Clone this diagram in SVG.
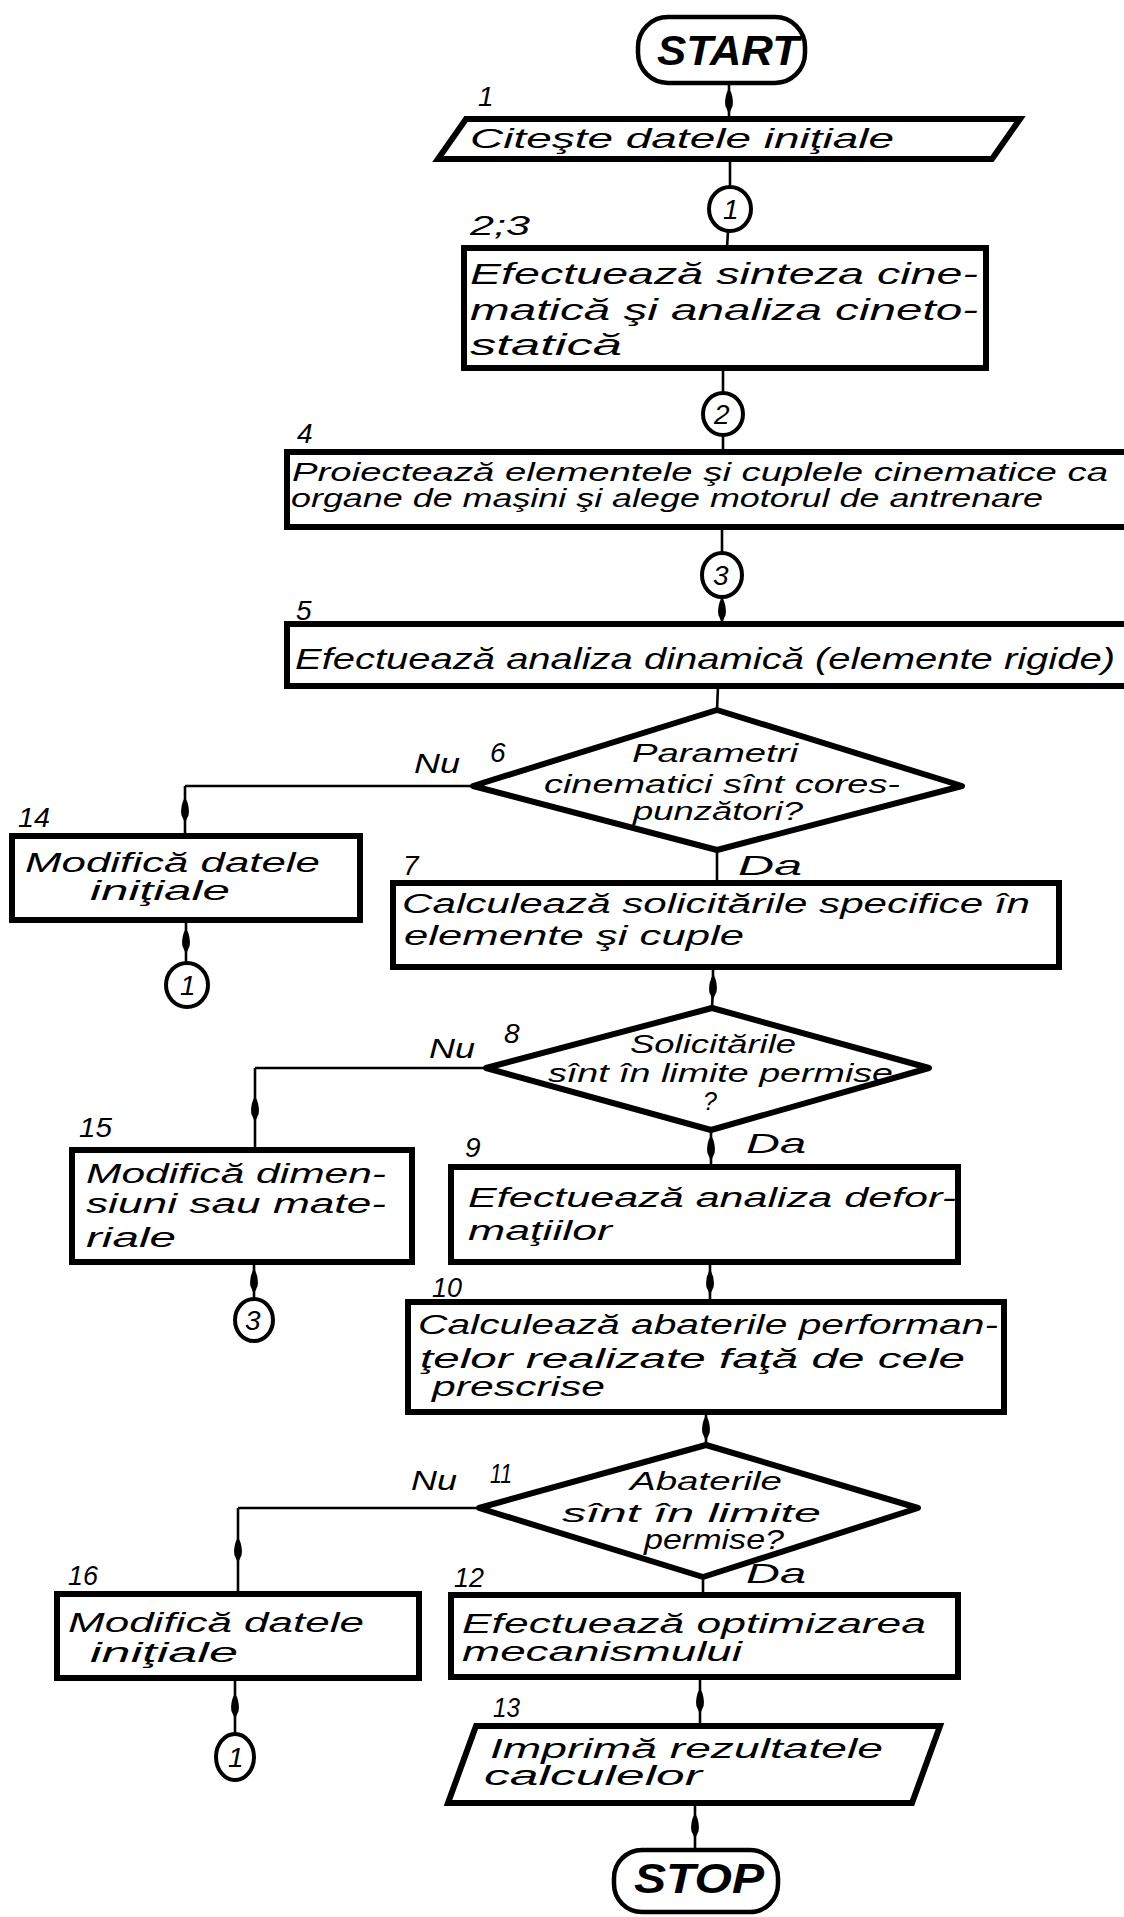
<svg xmlns="http://www.w3.org/2000/svg" width="1124" height="1917" viewBox="0 0 1124 1917">
<style>
.t{font-family:"Liberation Sans","DejaVu Sans",sans-serif;font-style:italic;fill:#000;font-size:27px}
.b{font-size:30px}
.s{font-size:25px}
.n{font-size:28px}
.term{font-weight:bold;font-size:42px}
.box{fill:#fff;stroke:#000;stroke-width:6}
.dia{fill:#fff;stroke:#000;stroke-width:6;stroke-linejoin:round}
.term-shape{fill:#fff;stroke:#000;stroke-width:4.5}
.con{fill:#fff;stroke:#000;stroke-width:4}
.ln{fill:none;stroke:#000;stroke-width:2.6}
.ar{marker-mid:url(#spindle)}
</style>
<defs>
<marker id="spindle" markerUnits="userSpaceOnUse" orient="auto" markerWidth="30" markerHeight="12" refX="0" refY="0" viewBox="-14 -6 28 12" overflow="visible">
<path d="M-13,0 Q-4,-5 5,-3.6 L13,0 L5,3.6 Q-4,5 -13,0 Z" fill="#000"/>
</marker>
</defs>
<rect width="1124" height="1917" fill="#fff"/>

<g id="connectors">
<path class="ln ar" d="M729,83 L729,101 L729,119"/>
<path class="ln" d="M730,159 L730,188"/>
<path class="ln" d="M728,231 L727,248"/>
<path class="ln" d="M723,368 L723,393"/>
<path class="ln" d="M723,435 L723,452"/>
<path class="ln" d="M722,527 L722,553"/>
<path class="ln ar" d="M722,597 L722,610 L722,623"/>
<path class="ln" d="M718,686 L717,710"/>
<path class="ln" d="M473,786 L185,786"/>
<path class="ln ar" d="M185,786 L185,810 L185,835"/>
<path class="ln ar" d="M186,920 L186,941 L186,963"/>
<path class="ln" d="M717,850 L717,883"/>
<path class="ln ar" d="M713,967 L713,987 L712,1008"/>
<path class="ln" d="M486,1068 L255,1068"/>
<path class="ln ar" d="M255,1068 L255,1109 L255,1150"/>
<path class="ln ar" d="M254,1262 L254,1281 L254,1300"/>
<path class="ln ar" d="M711,1130 L711,1148 L711,1167"/>
<path class="ln ar" d="M710,1262 L710,1282 L710,1302"/>
<path class="ln ar" d="M706,1412 L706,1428 L706,1445"/>
<path class="ln" d="M479,1508 L238,1508"/>
<path class="ln ar" d="M238,1508 L238,1550 L238,1593"/>
<path class="ln" d="M703,1577 L703,1595"/>
<path class="ln ar" d="M235,1678 L235,1706 L235,1735"/>
<path class="ln ar" d="M700,1677 L700,1701 L700,1726"/>
<path class="ln ar" d="M695,1803 L695,1826 L695,1850"/>
</g>

<g id="start">
<rect class="term-shape" x="638" y="17" width="167" height="66" rx="30" ry="30"/>
<text class="t term" x="657" y="65" textLength="142" lengthAdjust="spacingAndGlyphs">START</text>
</g>

<g id="n1">
<text class="t n" x="478" y="106">1</text>
<polygon class="box" points="466,119 1020,119 992,159 438,159"/>
<text class="t" x="470" y="148" textLength="424" lengthAdjust="spacingAndGlyphs">Citeşte datele iniţiale</text>
</g>

<g id="c1a">
<ellipse class="con" cx="730" cy="209" rx="21" ry="22"/>
<text class="t n" x="723" y="219">1</text>
</g>

<g id="n23">
<text class="t n" x="470" y="235" textLength="60" lengthAdjust="spacingAndGlyphs">2;3</text>
<rect class="box" x="464" y="248" width="522" height="120"/>
<text class="t b" x="470" y="284" textLength="508" lengthAdjust="spacingAndGlyphs">Efectuează sinteza cine-</text>
<text class="t b" x="470" y="320" textLength="508" lengthAdjust="spacingAndGlyphs">matică şi analiza cineto-</text>
<text class="t b" x="470" y="355" textLength="152" lengthAdjust="spacingAndGlyphs">statică</text>
</g>

<g id="c2">
<ellipse class="con" cx="723" cy="414" rx="20" ry="21" stroke-width="6"/>
<text class="t n" x="714" y="424">2</text>
</g>

<g id="n4">
<text class="t n" x="297" y="443">4</text>
<rect class="box" x="287" y="452" width="850" height="75"/>
<text class="t s" x="292" y="481" textLength="816" lengthAdjust="spacingAndGlyphs">Proiectează elementele şi cuplele cinematice ca</text>
<text class="t s" x="291" y="507" textLength="752" lengthAdjust="spacingAndGlyphs">organe de maşini şi alege motorul de antrenare</text>
</g>

<g id="c3a">
<ellipse class="con" cx="722" cy="575" rx="20" ry="22" stroke-width="6"/>
<text class="t n" x="713" y="585">3</text>
</g>

<g id="n5">
<text class="t n" x="296" y="620">5</text>
<rect class="box" x="287" y="624" width="850" height="62"/>
<text class="t b" x="295" y="669" textLength="820" lengthAdjust="spacingAndGlyphs">Efectuează analiza dinamică (elemente rigide)</text>
</g>

<g id="n6">
<polygon class="dia" points="717,710 962,786 717,850 473,786"/>
<text class="t n" x="490" y="762">6</text>
<text class="t n" x="414" y="773" textLength="46" lengthAdjust="spacingAndGlyphs">Nu</text>
<text class="t s" x="632" y="762" textLength="166" lengthAdjust="spacingAndGlyphs">Parametri</text>
<text class="t s" x="544" y="793" textLength="356" lengthAdjust="spacingAndGlyphs">cinematici sînt cores-</text>
<text class="t s" x="633" y="820" textLength="170" lengthAdjust="spacingAndGlyphs">punzători?</text>
</g>

<g id="n14">
<text class="t n" x="18" y="827" textLength="32" lengthAdjust="spacingAndGlyphs">14</text>
<rect class="box" x="12" y="836" width="348" height="84"/>
<text class="t" x="25" y="872" textLength="295" lengthAdjust="spacingAndGlyphs">Modifică datele</text>
<text class="t" x="90" y="900" textLength="140" lengthAdjust="spacingAndGlyphs">iniţiale</text>
</g>

<g id="c1b">
<ellipse class="con" cx="187" cy="985" rx="21" ry="22"/>
<text class="t n" x="180" y="995">1</text>
</g>

<g id="n7">
<text class="t n" x="403" y="875">7</text>
<text class="t n" x="738" y="875" textLength="64" lengthAdjust="spacingAndGlyphs">Da</text>
<rect class="box" x="393" y="883" width="666" height="84"/>
<text class="t" x="402" y="913" textLength="628" lengthAdjust="spacingAndGlyphs">Calculează solicitările specifice în</text>
<text class="t" x="404" y="945" textLength="340" lengthAdjust="spacingAndGlyphs">elemente şi cuple</text>
</g>

<g id="n8">
<polygon class="dia" points="712,1008 929,1068 711,1130 486,1068"/>
<text class="t n" x="504" y="1043">8</text>
<text class="t n" x="429" y="1058" textLength="46" lengthAdjust="spacingAndGlyphs">Nu</text>
<text class="t s" x="630" y="1053" textLength="166" lengthAdjust="spacingAndGlyphs">Solicitările</text>
<text class="t s" x="548" y="1082" textLength="345" lengthAdjust="spacingAndGlyphs">sînt în limite permise</text>
<text class="t s" x="703" y="1110">?</text>
</g>

<g id="n15">
<text class="t n" x="79" y="1137" textLength="33" lengthAdjust="spacingAndGlyphs">15</text>
<rect class="box" x="72" y="1150" width="340" height="112"/>
<text class="t" x="86" y="1183" textLength="300" lengthAdjust="spacingAndGlyphs">Modifică dimen-</text>
<text class="t" x="86" y="1213" textLength="300" lengthAdjust="spacingAndGlyphs">siuni sau mate-</text>
<text class="t" x="86" y="1247" textLength="90" lengthAdjust="spacingAndGlyphs">riale</text>
</g>

<g id="c3b">
<ellipse class="con" cx="254" cy="1320" rx="19" ry="21" stroke-width="5"/>
<text class="t n" x="245" y="1330">3</text>
</g>

<g id="n9">
<text class="t n" x="465" y="1157">9</text>
<text class="t n" x="746" y="1153" textLength="60" lengthAdjust="spacingAndGlyphs">Da</text>
<rect class="box" x="451" y="1167" width="507" height="95"/>
<text class="t" x="468" y="1207" textLength="488" lengthAdjust="spacingAndGlyphs">Efectuează analiza defor-</text>
<text class="t" x="468" y="1240" textLength="144" lengthAdjust="spacingAndGlyphs">maţiilor</text>
</g>

<g id="n10">
<text class="t n" x="432" y="1297" textLength="30" lengthAdjust="spacingAndGlyphs">10</text>
<rect class="box" x="408" y="1302" width="596" height="110"/>
<text class="t" x="418" y="1334" textLength="580" lengthAdjust="spacingAndGlyphs">Calculează abaterile performan-</text>
<text class="t" x="420" y="1368" textLength="545" lengthAdjust="spacingAndGlyphs">ţelor realizate faţă de cele</text>
<text class="t" x="432" y="1396" textLength="173" lengthAdjust="spacingAndGlyphs">prescrise</text>
</g>

<g id="n11">
<polygon class="dia" points="706,1445 918,1508 703,1577 479,1508"/>
<text class="t n" x="490" y="1483" textLength="22" lengthAdjust="spacingAndGlyphs">11</text>
<text class="t n" x="411" y="1490" textLength="46" lengthAdjust="spacingAndGlyphs">Nu</text>
<text class="t s" x="630" y="1490" textLength="152" lengthAdjust="spacingAndGlyphs">Abaterile</text>
<text class="t s" x="562" y="1522" textLength="259" lengthAdjust="spacingAndGlyphs">sînt în limite</text>
<text class="t" x="644" y="1549" textLength="140" lengthAdjust="spacingAndGlyphs">permise?</text>
</g>

<g id="n16">
<text class="t n" x="68" y="1585" textLength="30" lengthAdjust="spacingAndGlyphs">16</text>
<rect class="box" x="57" y="1594" width="362" height="84"/>
<text class="t" x="68" y="1632" textLength="296" lengthAdjust="spacingAndGlyphs">Modifică datele</text>
<text class="t" x="90" y="1662" textLength="148" lengthAdjust="spacingAndGlyphs">iniţiale</text>
</g>

<g id="c1c">
<ellipse class="con" cx="235" cy="1757" rx="19" ry="23"/>
<text class="t n" x="228" y="1767">1</text>
</g>

<g id="n12">
<text class="t n" x="454" y="1587" textLength="30" lengthAdjust="spacingAndGlyphs">12</text>
<text class="t n" x="746" y="1583" textLength="60" lengthAdjust="spacingAndGlyphs">Da</text>
<rect class="box" x="451" y="1595" width="507" height="82"/>
<text class="t" x="462" y="1633" textLength="464" lengthAdjust="spacingAndGlyphs">Efectuează optimizarea</text>
<text class="t" x="462" y="1661" textLength="280" lengthAdjust="spacingAndGlyphs">mecanismului</text>
</g>

<g id="n13">
<text class="t n" x="493" y="1717" textLength="27" lengthAdjust="spacingAndGlyphs">13</text>
<polygon class="box" points="476,1726 940,1726 912,1803 448,1803"/>
<text class="t" x="490" y="1758" textLength="393" lengthAdjust="spacingAndGlyphs">Imprimă rezultatele</text>
<text class="t" x="484" y="1785" textLength="218" lengthAdjust="spacingAndGlyphs">calculelor</text>
</g>

<g id="stop">
<rect class="term-shape" x="614" y="1850" width="164" height="62" rx="28" ry="28"/>
<text class="t term" x="634" y="1893" textLength="130" lengthAdjust="spacingAndGlyphs">STOP</text>
</g>
</svg>
